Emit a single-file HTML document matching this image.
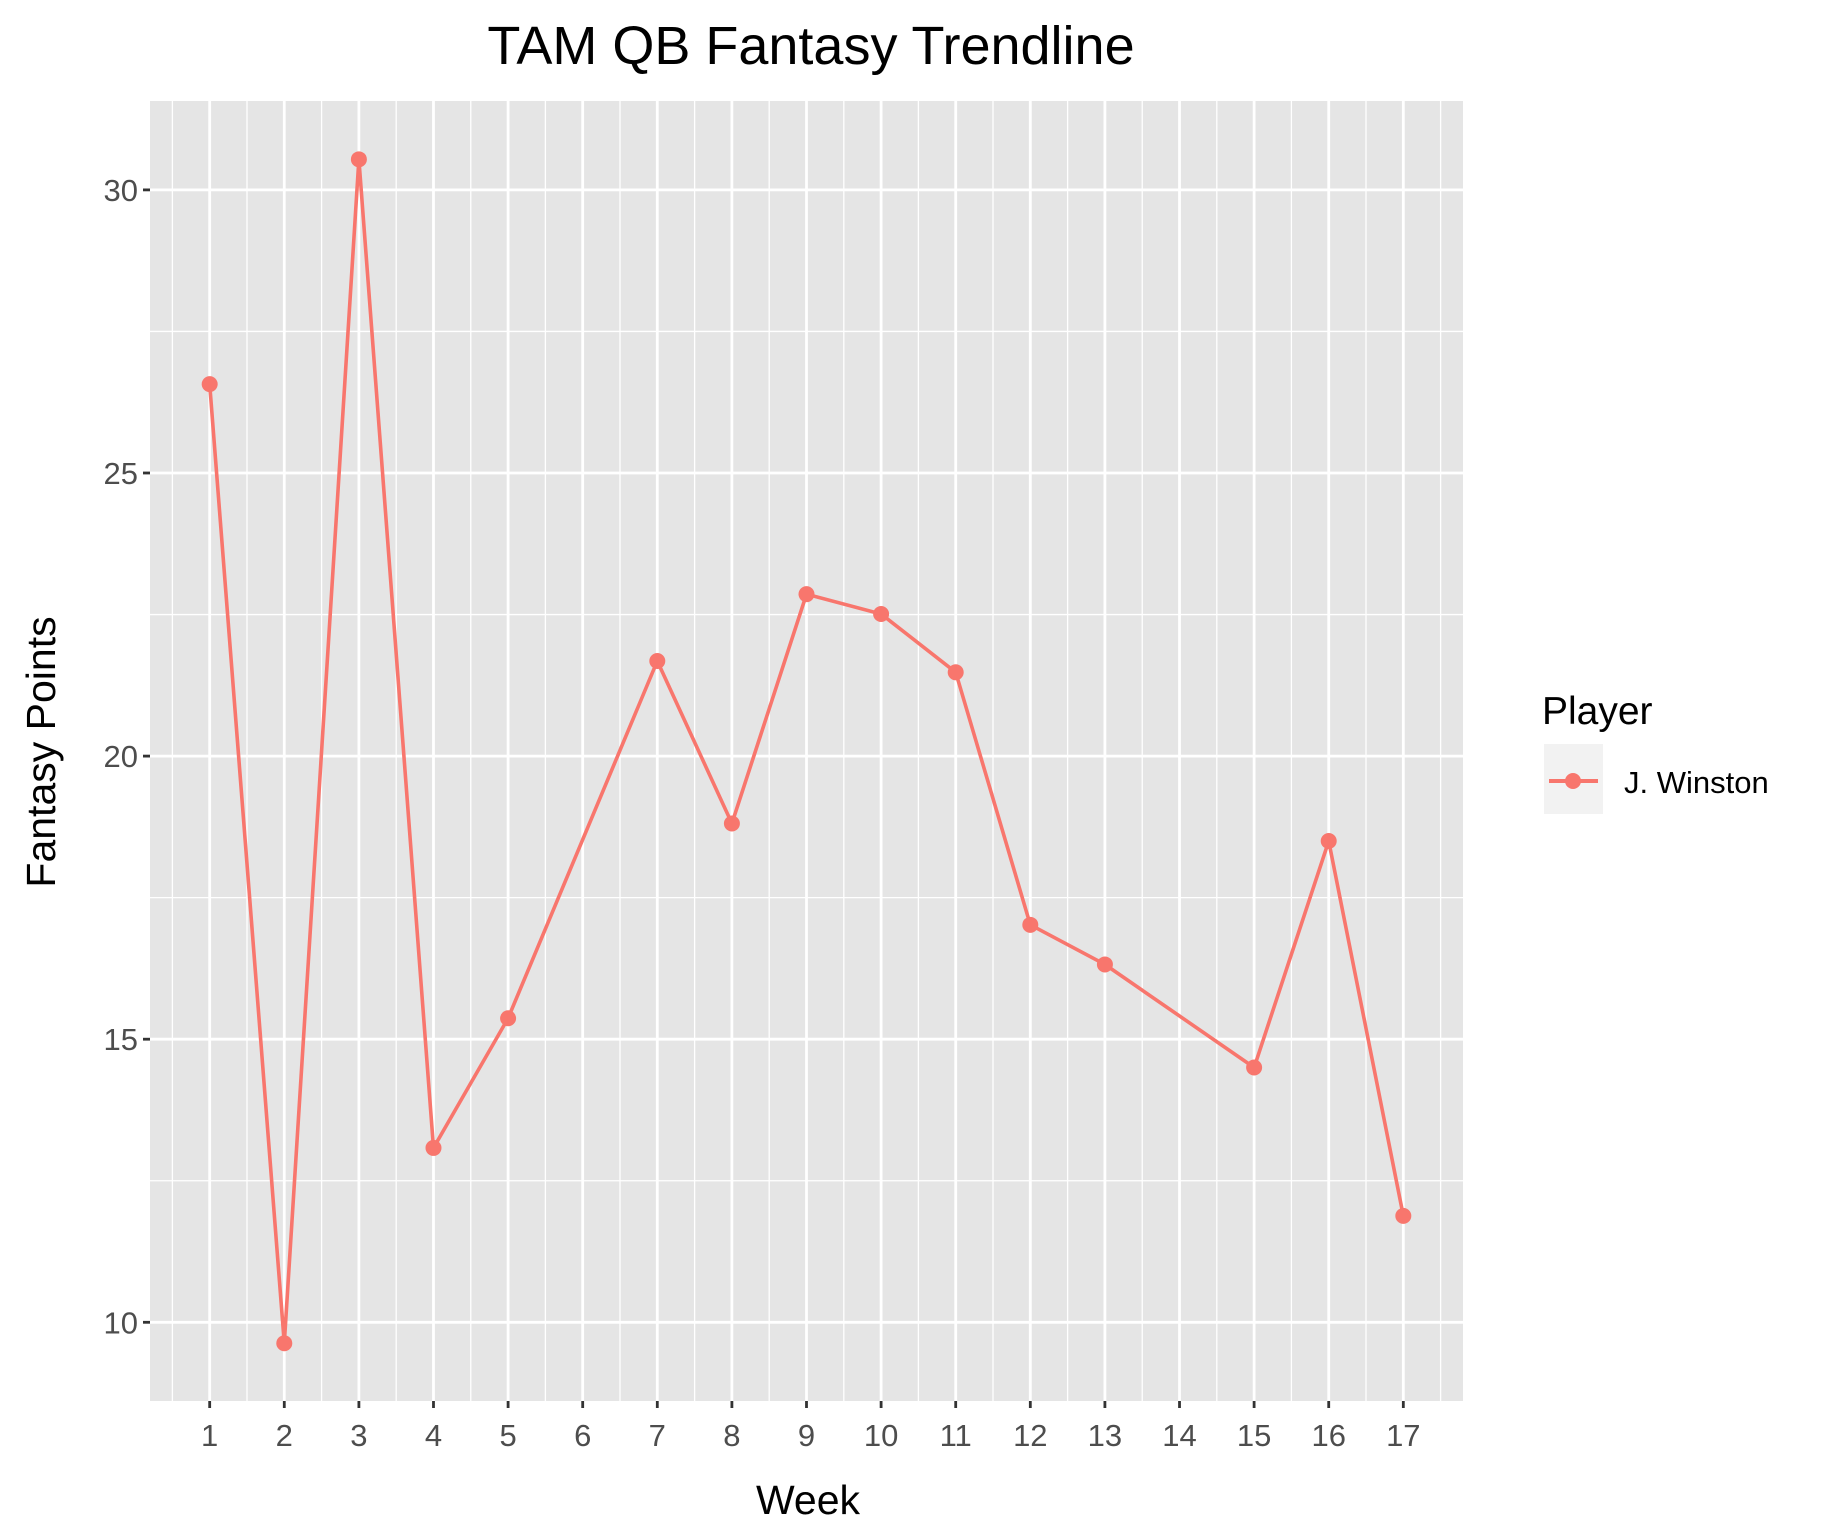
<!DOCTYPE html>
<html><head><meta charset="utf-8"><style>
body{margin:0;background:#fff}
svg text{font-family:"Liberation Sans",Arial,sans-serif}
</style></head><body>
<svg id="chart" width="1833" height="1529" xmlns="http://www.w3.org/2000/svg">
<rect width="1833" height="1529" fill="#fff"/>
<text x="811" y="64" font-size="54" text-anchor="middle" fill="#000">TAM QB Fantasy Trendline</text>
<rect x="150" y="101" width="1313" height="1300" fill="#E5E5E5"/>
<g id="grid"></g>
<g id="series"></g>
<g id="axes"></g>
<text x="808" y="1514" font-size="41" text-anchor="middle" fill="#000">Week</text>
<text transform="translate(55,752) rotate(-90)" font-size="41" text-anchor="middle" fill="#000">Fantasy Points</text>
<g>
<text x="1542" y="724" font-size="39" fill="#000">Player</text>
<rect x="1544" y="744" width="59" height="70" fill="#F2F2F2"/>
<line x1="1549" y1="781" x2="1598" y2="781" stroke="#F8766D" stroke-width="4"/>
<circle cx="1573" cy="781" r="8" fill="#F8766D"/>
<text x="1624" y="793" font-size="31" fill="#000">J. Winston</text>
</g>
</svg>
<script>
const weeks = [1,2,3,4,5,7,8,9,10,11,12,13,15,16,17];
const points = [26.57,9.63,30.54,13.08,15.37,21.68,18.81,22.86,22.51,21.48,17.02,16.32,14.50,18.50,11.88];
const xTicks = [1,2,3,4,5,6,7,8,9,10,11,12,13,14,15,16,17];
const yTicks = [10,15,20,25,30];
const NS='http://www.w3.org/2000/svg';
const L=150,R=1463,T=101,B=1401;
const xMin=0.2,xMax=17.8,yMin=8.61,yMax=31.57;
const xs=v=>L+(v-xMin)/(xMax-xMin)*(R-L);
const ys=v=>B-(v-yMin)/(yMax-yMin)*(B-T);
function mk(tag,attrs,parent){const e=document.createElementNS(NS,tag);for(const k in attrs)e.setAttribute(k,attrs[k]);parent.appendChild(e);return e;}
const grid=document.getElementById('grid'),axes=document.getElementById('axes'),series=document.getElementById('series');
for(let i=0;i<=yTicks.length;i++){const v=yTicks[0]-2.5+i*5;if(v<yMin||v>yMax)continue;
 const e=mk('line',{x1:L,x2:R,y1:ys(v),y2:ys(v),stroke:'#fff','stroke-width':1.3},grid);
 
 }
for(let i=0;i<=xTicks.length;i++){const v=xTicks[0]-0.5+i;if(v<xMin||v>xMax)continue;
 const e=mk('line',{x1:xs(v),x2:xs(v),y1:T,y2:B,stroke:'#fff','stroke-width':1.3},grid);
 
 }
yTicks.forEach(v=>{const y=ys(v);
 const g=mk('line',{x1:L,x2:R,y1:y,y2:y,stroke:'#fff','stroke-width':2.8},grid);
 
 
 const t=mk('line',{x1:L-7,x2:L,y1:y,y2:y,stroke:'#333','stroke-width':2.8},axes);
 
 
 const tx=mk('text',{x:L-12,y:y+11,'font-size':31,'text-anchor':'end',fill:'#4D4D4D'},axes);tx.textContent=v;
 
 });
xTicks.forEach(v=>{const x=xs(v);
 const g=mk('line',{x1:x,x2:x,y1:T,y2:B,stroke:'#fff','stroke-width':2.8},grid);
 
 
 const t=mk('line',{x1:x,x2:x,y1:B,y2:B+7,stroke:'#333','stroke-width':2.8},axes);
 
 
 const tx=mk('text',{x:x,y:B+45,'font-size':31,'text-anchor':'middle',fill:'#4D4D4D'},axes);tx.textContent=v;
 
 });
const path=mk('polyline',{points:weeks.map((w,i)=>xs(w)+','+ys(points[i])).join(' '),fill:'none',stroke:'#F8766D','stroke-width':3.6},series);


weeks.forEach((w,i)=>{const c=mk('circle',{cx:xs(w),cy:ys(points[i]),r:8,fill:'#F8766D'},series);
 
 });
</script>
</body></html>
